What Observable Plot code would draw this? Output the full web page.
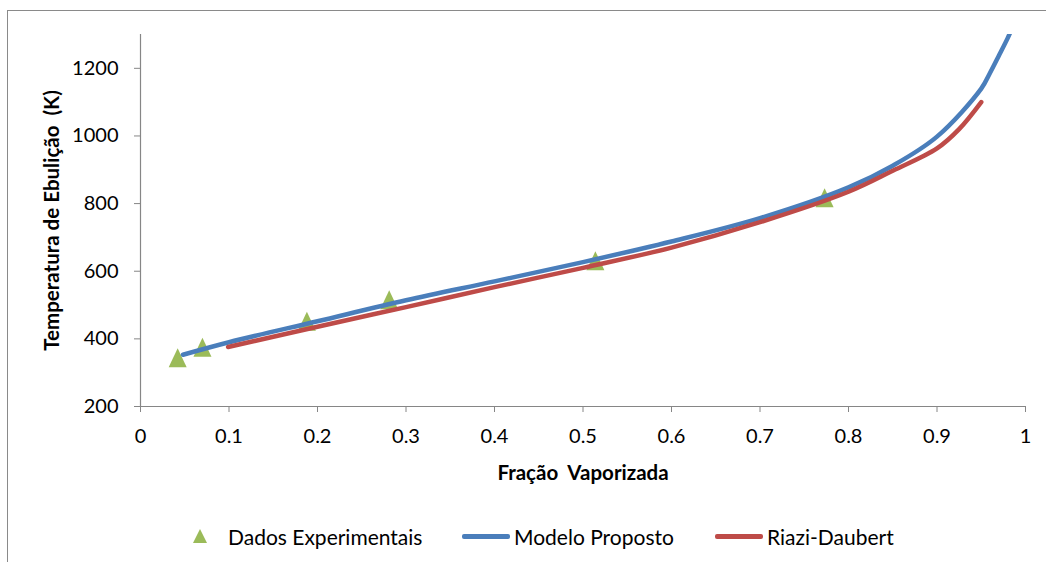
<!DOCTYPE html>
<html>
<head>
<meta charset="utf-8">
<script src="https://cdn.jsdelivr.net/npm/d3@7"></script>
<script src="https://cdn.jsdelivr.net/npm/@observablehq/plot@0.6"></script>
<style>
  html, body { margin: 0; padding: 0; background: #fff; }
  body { width: 1046px; height: 562px; position: relative; overflow: hidden; font-family: Lato, "Liberation Sans", sans-serif; }
  #chart { position: absolute; left: 0; top: 0; z-index: 1; }
  #frame { position: absolute; left: 7px; top: 10px; width: 1100px; height: 600px; z-index: 5;
           border-left: 1px solid #8a8a8a; border-top: 1px solid #8a8a8a; pointer-events: none; }
  .legend-item { position: absolute; top: 523px; height: 26px; display: flex; align-items: center; z-index: 2;
                 font-size: 21px; color: #000; white-space: nowrap; }
  .swatch-line { width: 48px; height: 5px; border-radius: 2px; margin-right: 4px; }
</style>
</head>
<body>
<div id="chart"></div>
<div id="frame"></div>
<div class="legend-item" style="left:192px">
  <svg width="16" height="16" style="margin-right:20px"><path d="M8,1L15,15L1,15Z" fill="#9BBB59"/></svg>Dados Experimentais
</div>
<div class="legend-item" style="left:462px"><div class="swatch-line" style="background:#4A7EBB"></div>Modelo Proposto</div>
<div class="legend-item" style="left:715px"><div class="swatch-line" style="background:#BE4B48"></div>Riazi-Daubert</div>
<script>
// Axis ticks
const xTicks = [0, 0.1, 0.2, 0.3, 0.4, 0.5, 0.6, 0.7, 0.8, 0.9, 1];
const yTicks = [200, 400, 600, 800, 1000, 1200];

// Dados experimentais (fração vaporizada, temperatura em K)
const expFrac = [0.042, 0.070, 0.188, 0.281, 0.514, 0.773];
const expTemp = [344, 375, 452, 516, 631, 817];

// Modelo proposto
const modelFrac = [0.048, 0.1, 0.2, 0.3, 0.4, 0.5, 0.6, 0.7, 0.8, 0.85, 0.9, 0.95, 0.96, 0.97, 0.98, 0.985];
const modelTemp = [353, 390, 452, 514, 570, 627, 688, 757, 848, 912, 998, 1140, 1187, 1238, 1290, 1320];

// Correlação de Riazi-Daubert
const riaziFrac = [0.099, 0.2, 0.3, 0.4, 0.5, 0.6, 0.7, 0.8, 0.85, 0.9, 0.925, 0.95];
const riaziTemp = [376, 436, 494, 553, 610, 670, 745, 835, 897, 963, 1020, 1100];

const expData = expFrac.map((f, i) => ({f, t: expTemp[i]}));
const modelData = modelFrac.map((f, i) => ({f, t: modelTemp[i]}));
const riaziData = riaziFrac.map((f, i) => ({f, t: riaziTemp[i]}));

// Slightly tall triangle marker, centred on its bounding box
const triangle = {
  draw(context) {
    context.moveTo(0, -9.5);
    context.lineTo(9, 9.5);
    context.lineTo(-9, 9.5);
    context.closePath();
  }
};

const axisGray = "#868686";
const W = 1046, H = 500;

const chart = Plot.plot({
  width: W,
  height: H,
  marginLeft: 140,
  marginRight: 21,
  marginTop: 34,
  marginBottom: H - 406,
  style: {fontFamily: "Lato, 'Liberation Sans', sans-serif", fontSize: "20px", background: "transparent", color: "#000"},
  x: {domain: [0, 1], axis: null},
  y: {domain: [200, 1300], axis: null},
  marks: [
    Plot.ruleX([0], {stroke: axisGray, strokeWidth: 1.2}),
    Plot.ruleY([200], {stroke: axisGray, strokeWidth: 1.2}),
    Plot.axisX(xTicks, {tickSize: 6, tickPadding: 16, stroke: axisGray, fill: "#000", fontSize: 20, tickFormat: d => String(d), label: null}),
    Plot.axisY(yTicks, {tickSize: 6, tickPadding: 16, stroke: axisGray, fill: "#000", fontSize: 20, tickFormat: d => String(d), label: null}),
    Plot.text(["Fração  Vaporizada"], {frameAnchor: "bottom", dy: 67, fontWeight: "bold", fontSize: 20.5, fill: "#000", lineAnchor: "middle", textAnchor: "middle"}),
    Plot.text(["Temperatura de Ebulição  (K)"], {frameAnchor: "left", dx: -88, rotate: -90, fontWeight: "bold", fontSize: 20.5, fill: "#000", lineAnchor: "middle", textAnchor: "middle"}),
    Plot.dot(expData, {x: "f", y: "t", symbol: triangle, fill: "#9BBB59", stroke: "none"}),
    Plot.line(modelData, {x: "f", y: "t", stroke: "#4A7EBB", strokeWidth: 4.5, curve: "catmull-rom", clip: true, strokeLinecap: "round"}),
    Plot.line(riaziData, {x: "f", y: "t", stroke: "#BE4B48", strokeWidth: 4.5, curve: "catmull-rom", clip: true, strokeLinecap: "round"})
  ]
});
document.getElementById("chart").appendChild(chart);
</script>
</body>
</html>
